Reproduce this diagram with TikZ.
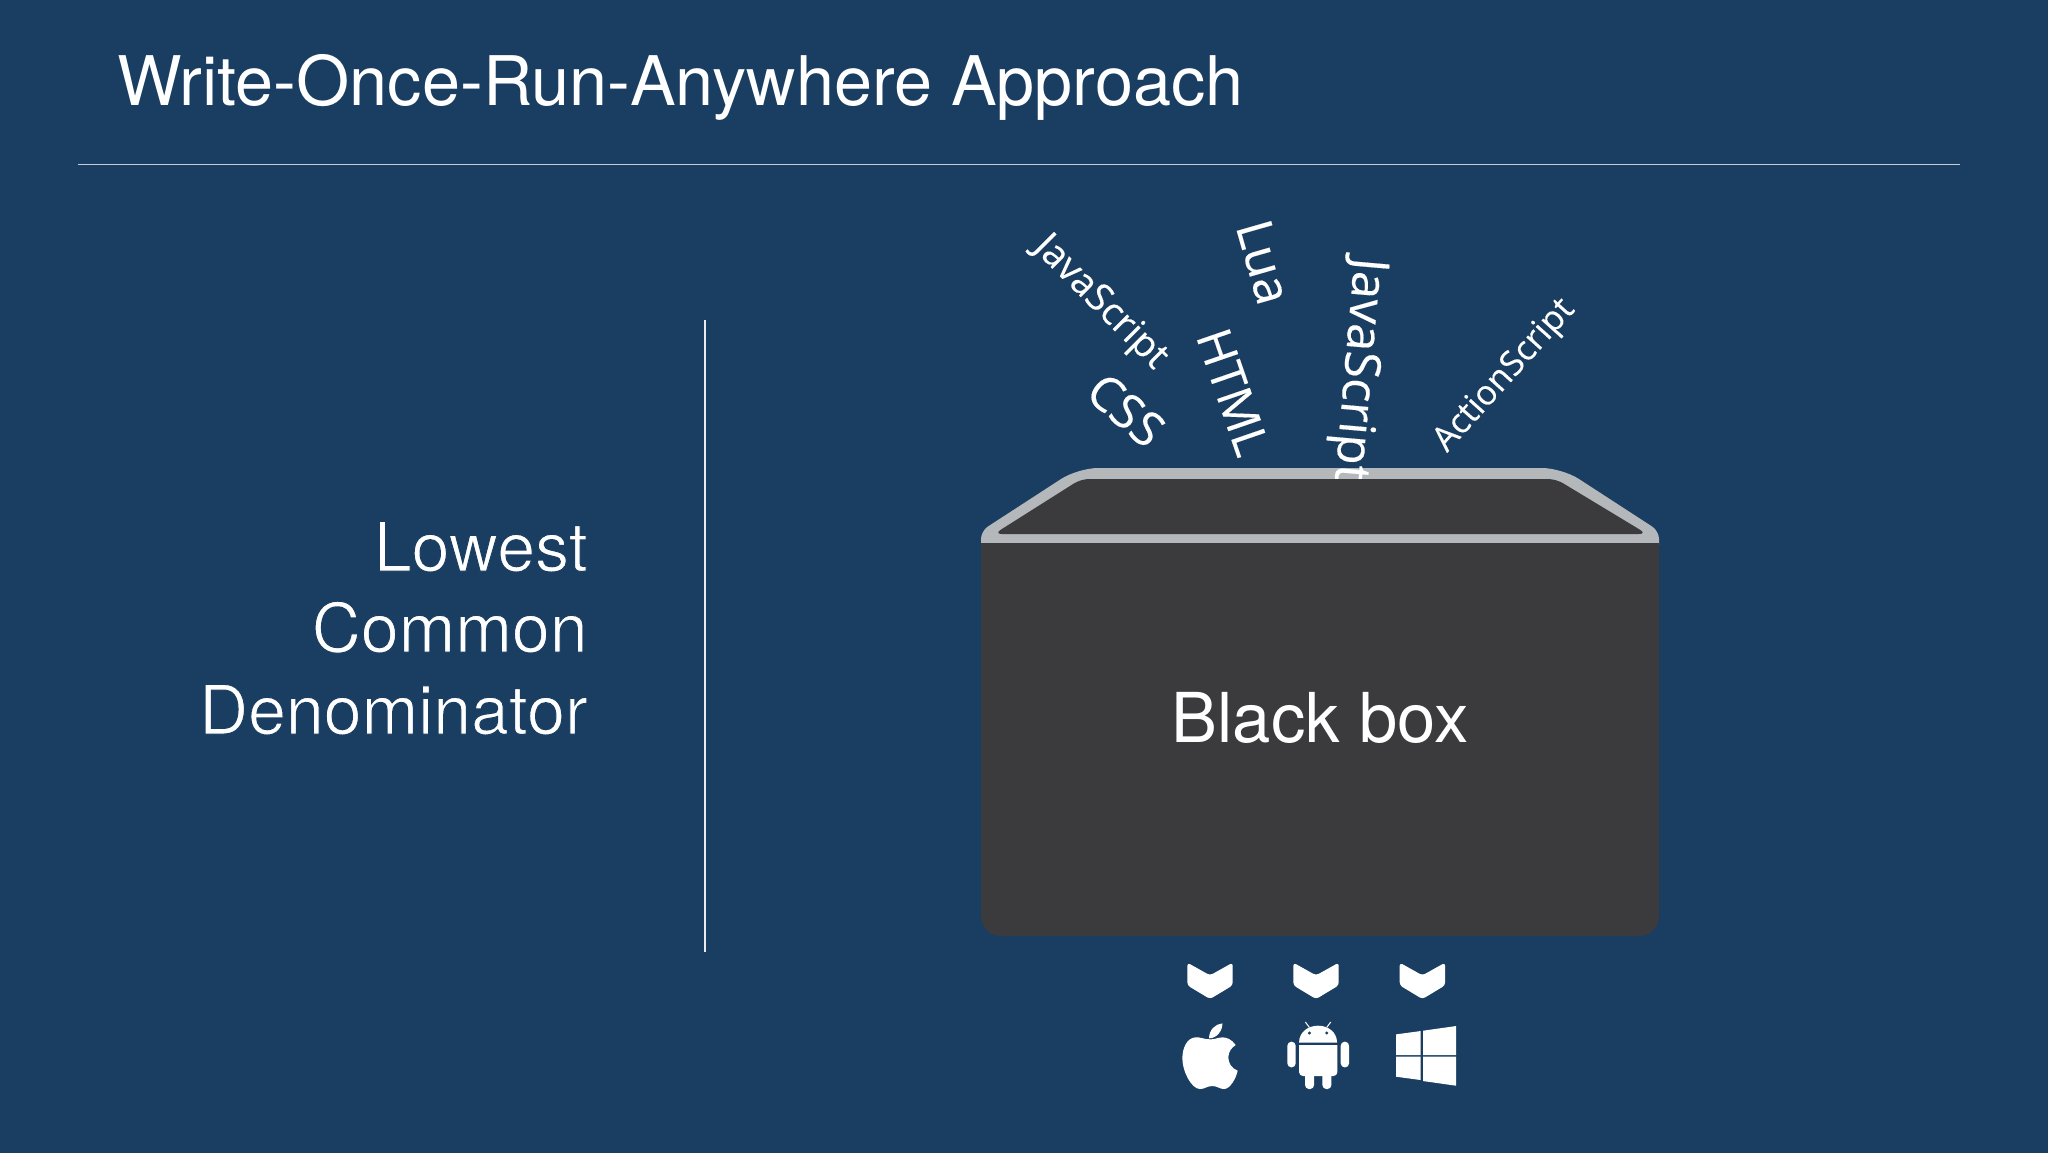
\documentclass[tikz,border=0pt]{standalone}
\usepackage{fontspec}
\setmainfont{TeX Gyre Heros}
\newfontfamily\slant[FakeBold=0.25]{Open Sans}
\definecolor{bgblue}{HTML}{1A3E61}
\definecolor{boxdark}{HTML}{3B3B3D}
\definecolor{lidgray}{HTML}{B5B8BB}
\newcommand{\thintext}[1]{\special{pdf:code q 2 Tr 0.5 w 0.102 0.243 0.38 RG}#1\special{pdf:code 0 Tr Q}}
\tikzset{
  titletext/.style={font=\fontsize{34.2}{38}\selectfont,text=white,anchor=base west,inner sep=0pt},
  sidetext/.style={font=\fontsize{34}{40}\selectfont,text=white,anchor=base east,inner sep=0pt},
  boxtext/.style={font=\fontsize{34.4}{40}\selectfont,text=white,anchor=center,inner sep=0pt},
  lang/.style={font=\slant\fontsize{#1}{#1}\selectfont,text=white,anchor=center,inner sep=0pt},
  rulewhite/.style={draw=white!75!bgblue,line width=0.5pt},
  rulebright/.style={draw=white!90!bgblue,line width=0.6pt},
  icon/.style={fill=white,draw=none}
}
\begin{document}
\begin{tikzpicture}[x=0.5pt,y=-0.5pt]
\useasboundingbox (0,0) rectangle (2048,1152);
\fill[bgblue] (-6,-6) rectangle (2054,1158);
\node[titletext] (title) at (117,105) {Write-Once-Run-Anywhere Approach};
\coordinate (hl) at (78,164.4); \coordinate (hr) at (1960,164.4);
\draw[rulewhite] (hl) -- (hr);
\coordinate (vt) at (705,320); \coordinate (vb) at (705,952);
\draw[rulebright] (vt) -- (vb);
\node[sidetext] (s1) at (588,571) {\thintext{Lowest}};
\node[sidetext] (s2) at (588,652) {\thintext{Common}};
\node[sidetext] (s3) at (588,734) {\thintext{Denominator}};
% labels
\node[lang=19,rotate=-45] (js1) at (1100,303) {JavaScript};
\node[lang=25,rotate=-74] (lua) at (1264,262) {Lua};
\node[lang=24,rotate=-41] (css) at (1126,410) {CSS};
\node[lang=24,rotate=-71] (html) at (1233,392) {HTML};
\node[lang=17.2,rotate=48] (as) at (1505,376) {ActionScript};
% lid and box
\fill[lidgray] (981,545) [rounded corners=4pt] -- (981,531) [rounded corners=10pt] -- (1078,468) -- (1562,468) [rounded corners=4pt] -- (1659,531) [sharp corners] -- (1659,545) -- cycle;
\node[lang=24.8,rotate=-95] (js2) at (1357,370) {JavaScript};
\fill[boxdark,rounded corners=4pt] (994,534) -- (1081,479) -- (1556,479) -- (1647,534) -- cycle;
\fill[boxdark] (981,543) [rounded corners=10pt] -- (981,936) -- (1659,936) [sharp corners] -- (1659,543) -- cycle;
\node[boxtext] (bb) at (1320,718) {Black box};
% icons
\begin{scope}[shift={(1150,940)},x=0.1667pt,y=-0.1667pt]
\foreach \dx/\nm in {0/a,318/b,637/c}{
  \fill[icon,rounded corners=1.5pt,shift={(\dx,0)}] (112,68) -- (180,106) -- (248,68) -- (248,136) -- (180,177) -- (112,136) -- cycle;
}
\fill[icon] (182,298) .. controls (160,298) and (150,290) .. (135,292) .. controls (110,295) and (97,325) .. (97,355) .. controls (97,395) and (125,447) .. (150,447) .. controls (165,447) and (170,438) .. (187,438) .. controls (203,438) and (208,447) .. (222,447) .. controls (240,447) and (258,415) .. (263,392) .. controls (245,385) and (235,370) .. (235,352) .. controls (235,335) and (245,322) .. (257,315) .. controls (245,298) and (230,292) .. (218,292) .. controls (205,292) and (195,298) .. (182,298) -- cycle;
\fill[icon] (177,295) .. controls (177,270) and (195,252) .. (217,250) .. controls (218,272) and (200,295) .. (177,295) -- cycle;
% android
\fill[icon] (447,308) .. controls (447,275) and (475,257) .. (504,257) .. controls (533,257) and (561,275) .. (561,308) -- cycle;
\draw[white,line width=0.5pt] (478,262) -- (466,246) (530,262) -- (542,246);
\fill[bgblue] (478,279) circle (5) (530,279) circle (5);
\fill[icon] (447,315) -- (562,315) [rounded corners=2pt] -- (562,408) -- (447,408) [sharp corners] -- cycle;
\fill[icon,rounded corners=2pt] (412,305) rectangle (437,382);
\fill[icon,rounded corners=2pt] (572,305) rectangle (597,382);
\fill[icon,rounded corners=2pt] (465,395) rectangle (492,447);
\fill[icon,rounded corners=2pt] (517,395) rectangle (544,447);
% windows
\fill[icon] (738,283) -- (812,273) -- (812,345) -- (738,345) -- cycle;
\fill[icon] (819,272) -- (918,258) -- (918,345) -- (819,345) -- cycle;
\fill[icon] (738,350) -- (812,350) -- (812,420) -- (738,410) -- cycle;
\fill[icon] (819,350) -- (918,350) -- (918,437) -- (819,423) -- cycle;
\end{scope}
\end{tikzpicture}
\end{document}
